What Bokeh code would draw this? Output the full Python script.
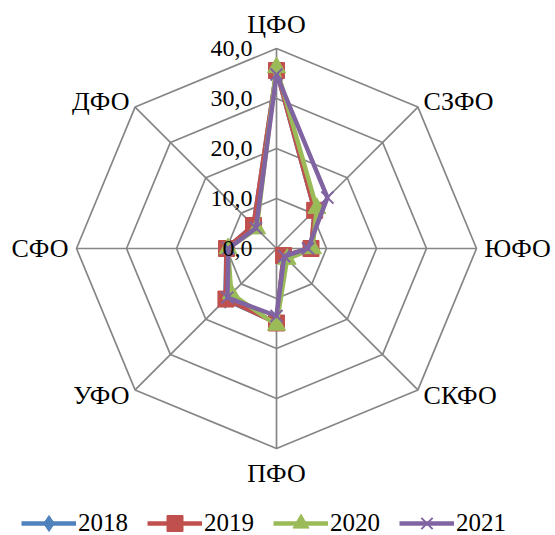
import numpy as np
from bokeh.plotting import figure
from bokeh.models import ColumnDataSource, Legend, LegendItem, Range1d
from bokeh.core.properties import value
from bokeh.embed import file_html
from bokeh.resources import INLINE

categories = ["ЦФО", "СЗФО", "ЮФО", "СКФО", "ПФО", "УФО", "СФО", "ДФО"]
years = ["2018", "2019", "2020", "2021"]
v2018 = [35.5, 10.8, 7.0, 2.0, 14.8, 14.5, 10.0, 6.5]
v2019 = [35.6, 10.8, 6.9, 2.0, 14.9, 14.3, 10.0, 6.5]
v2020 = [36.2, 11.4, 7.2, 3.0, 15.3, 12.8, 9.7, 5.6]
v2021 = [34.8, 14.4, 6.3, 2.2, 13.5, 13.9, 9.6, 5.8]
tick_values = [0, 10, 20, 30, 40]
tick_labels = ["0,0", "10,0", "20,0", "30,0", "40,0"]

series = [v2018, v2019, v2020, v2021]
colors = ["#4F81BD", "#C0504D", "#9BBB59", "#8064A2"]
markers = ["diamond", "square", "triangle", "x"]
msizes = [17, 16, 18, 17]

FONT = "Liberation Serif"
W, H = 555, 535
CX, CY = 276, 248
S = 5.0  # px per unit

n = len(categories)
ang = np.deg2rad(90 - 360.0 / n * np.arange(n))
cosA, sinA = np.cos(ang), np.sin(ang)

p = figure(width=W, height=H, output_backend="svg", toolbar_location=None,
           x_range=Range1d(-CX / S, (W - CX) / S), y_range=Range1d(-(H - CY) / S, CY / S),
           min_border=0, outline_line_color=None)
p.axis.visible = False
p.grid.visible = False
p.background_fill_color = "white"
p.border_fill_color = "white"

grid_col = "#868686"
rmax = tick_values[-1]
# rings
xs, ys = [], []
for t in tick_values[1:]:
    xs.append(list(t * cosA) + [t * cosA[0]])
    ys.append(list(t * sinA) + [t * sinA[0]])
p.multi_line(xs, ys, line_color=grid_col, line_width=1.7)
# spokes
p.multi_line([[0, rmax * c] for c in cosA], [[0, rmax * s] for s in sinA],
             line_color=grid_col, line_width=1.7)

items = []
for vals, col, mk, ms, yr in zip(series, colors, markers, msizes, years):
    v = np.array(vals)
    x = v * cosA
    y = v * sinA
    lr = p.line(list(x) + [x[0]], list(y) + [y[0]], line_color=col, line_width=4.5,
                line_join="round")
    if mk == "x":
        sr = p.scatter(x, y, marker=mk, size=ms, line_color=col, line_width=2)
    else:
        sr = p.scatter(x, y, marker=mk, size=ms, fill_color=col, line_color=col)
    items.append(LegendItem(label=yr, renderers=[lr, sr]))

# tick labels
p.text(x=[-24 / S] * len(tick_values), y=tick_values, text=tick_labels,
       text_font=value(FONT), text_font_size="24px", text_color="black",
       text_align="right", text_baseline="middle")

# category labels
lx, ly, al = [], [], []
for c, s in zip(cosA, sinA):
    if abs(c) < 0.1:
        r = 44.9
    else:
        r = 41.6
    lx.append(r * c)
    ly.append(r * s)
    al.append("left" if c > 0.1 else ("right" if c < -0.1 else "center"))
src = ColumnDataSource(dict(x=lx, y=ly, text=categories, align=al))
p.text(x="x", y="y", text="text", source=src, text_align="align",
       text_baseline="middle", text_font=value(FONT), text_font_size="26px",
       text_color="black")

legend = Legend(items=items, orientation="horizontal", location=(21, -8),
                glyph_width=55, glyph_height=40, label_standoff=2, spacing=19,
                padding=0, margin=0, border_line_color=None,
                background_fill_alpha=0,
                label_text_font=FONT, label_text_font_size="25px",
                label_text_color="black")
p.add_layout(legend, "center")

open("out.html", "w").write(file_html(p, INLINE))
